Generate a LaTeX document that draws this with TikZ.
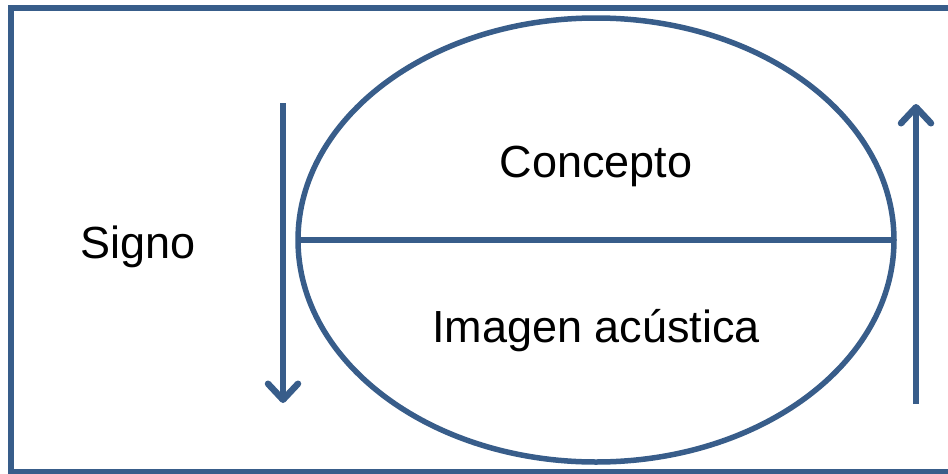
\documentclass[tikz,border=0pt]{standalone}
\usepackage{fontspec}
\setmainfont{Liberation Sans}
\usetikzlibrary{arrows.meta}

\definecolor{azul}{HTML}{385D8A}

\begin{document}
\begin{tikzpicture}[x=1pt, y=-1pt, line width=5.5pt, draw=azul,
    flecha/.style={line width=6.5pt, -{Straight Barb[length=16pt, width=30pt, line width=6.5pt, round]}},
    texto/.style={font=\fontsize{45}{45}\selectfont, anchor=base}]
  \useasboundingbox (0,0) rectangle (948,474);
  % marco exterior
  \draw[azul, line width=6.5pt] (11,8) rectangle (955,472);
  % elipse del signo, partida en dos
  \coordinate (c) at (596,240);
  \draw[azul] (c) ellipse [x radius=298pt, y radius=222pt];
  \coordinate (izq) at (298,240);
  \coordinate (der) at (894,240);
  \draw[azul] (izq) -- (der);
  \node[texto] (concepto) at (596,177) {Concepto};
  \node[texto] (imagen) at (596,342) {Imagen acústica};
  \node[texto] (signo) at (138,258) {Signo};
  % flechas a los lados
  \coordinate (a1) at (283,103);
  \coordinate (a2) at (283,403);
  \coordinate (b1) at (916,404);
  \coordinate (b2) at (916,104);
  \draw[azul, flecha] (a1) -- (a2);
  \draw[azul, flecha] (b1) -- (b2);
\end{tikzpicture}
\end{document}
